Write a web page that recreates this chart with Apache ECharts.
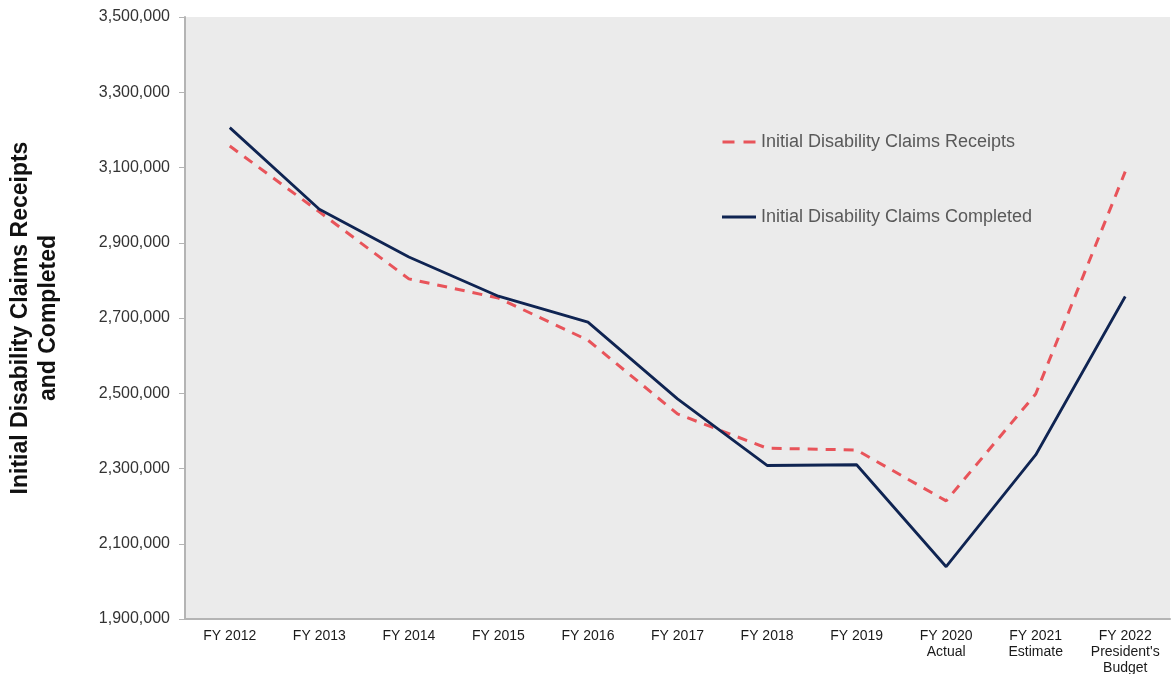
<!DOCTYPE html>
<html>
<head>
<meta charset="utf-8">
<script src="https://cdn.jsdelivr.net/npm/echarts@6/dist/echarts.min.js"></script>
<style>
  html, body { margin: 0; padding: 0; background: #ffffff; }
  #chart { width: 1171px; height: 674px; }
</style>
</head>
<body>
<div id="chart"></div>
<script>
// Fiscal years shown on the category axis
const categories = [
  'FY 2012', 'FY 2013', 'FY 2014', 'FY 2015', 'FY 2016', 'FY 2017',
  'FY 2018', 'FY 2019', 'FY 2020\nActual', 'FY 2021\nEstimate', "FY 2022\nPresident's\nBudget"
];

// Initial disability claims received per year
const receipts = [3157000, 2982000, 2804000, 2753000, 2641000, 2445000, 2354000, 2349000, 2214000, 2498000, 3089000];

// Initial disability claims completed per year
const completed = [3206000, 2989000, 2862000, 2758000, 2689000, 2485000, 2308000, 2310000, 2039000, 2336000, 2757000];

const seriesNames = ['Initial Disability Claims Receipts', 'Initial Disability Claims Completed'];
const axisTitle = 'Initial Disability Claims Receipts\nand Completed';

const FONT = '"Liberation Sans", Arial, sans-serif';
const chart = echarts.init(document.getElementById('chart'), null, { renderer: 'canvas' });

chart.setOption({
  animation: false,
  backgroundColor: '#ffffff',
  textStyle: { fontFamily: FONT },
  grid: {
    left: 185, right: 1, top: 17, bottom: 55,
    outerBoundsMode: 'none',
    containLabel: false,
    show: true, backgroundColor: '#ebebeb', borderWidth: 0
  },
  legend: {
    orient: 'vertical',
    left: 717, top: 128,
    itemGap: 57,
    itemWidth: 34, itemHeight: 3,
    textStyle: { color: '#595959', fontSize: 18, fontFamily: FONT },
    data: [
      // short dashes for the receipts line, a plain bar for completed
      { name: seriesNames[0], icon: 'path://M0,0h12v3h-12z M21,0h12v3h-12z' },
      { name: seriesNames[1], icon: 'path://M0,0h34v3h-34z' }
    ]
  },
  xAxis: {
    type: 'category',
    data: categories,
    boundaryGap: true,
    axisLine: { lineStyle: { color: '#b4b4b4', width: 2 } },
    axisTick: { show: false },
    axisLabel: {
      color: '#1a1a1a', fontSize: 14, margin: 9, lineHeight: 16, interval: 0,
      fontFamily: FONT
    }
  },
  yAxis: {
    type: 'value',
    min: 1900000, max: 3500000, interval: 200000,
    name: axisTitle,
    nameLocation: 'middle',
    nameGap: 122,
    nameRotate: 90,
    nameTextStyle: {
      color: '#111111', fontSize: 23, fontWeight: 'bold', lineHeight: 28,
      fontFamily: FONT
    },
    axisLine: { show: true, lineStyle: { color: '#b4b4b4', width: 2 } },
    axisTick: { show: true, length: 6, lineStyle: { color: '#b4b4b4' } },
    splitLine: { show: false },
    axisLabel: {
      color: '#333333', fontSize: 16, margin: 15,
      fontFamily: FONT,
      formatter: v => v.toLocaleString('en-US')
    }
  },
  series: [
    {
      name: seriesNames[0],
      type: 'line',
      data: receipts,
      symbol: 'none',
      itemStyle: { color: '#e8545a' },
      lineStyle: { color: '#e8545a', width: 3, type: [10, 8] },
      z: 2
    },
    {
      name: seriesNames[1],
      type: 'line',
      data: completed,
      symbol: 'none',
      itemStyle: { color: '#0f2452' },
      lineStyle: { color: '#0f2452', width: 2.8 },
      z: 3
    }
  ]
});
</script>
</body>
</html>
